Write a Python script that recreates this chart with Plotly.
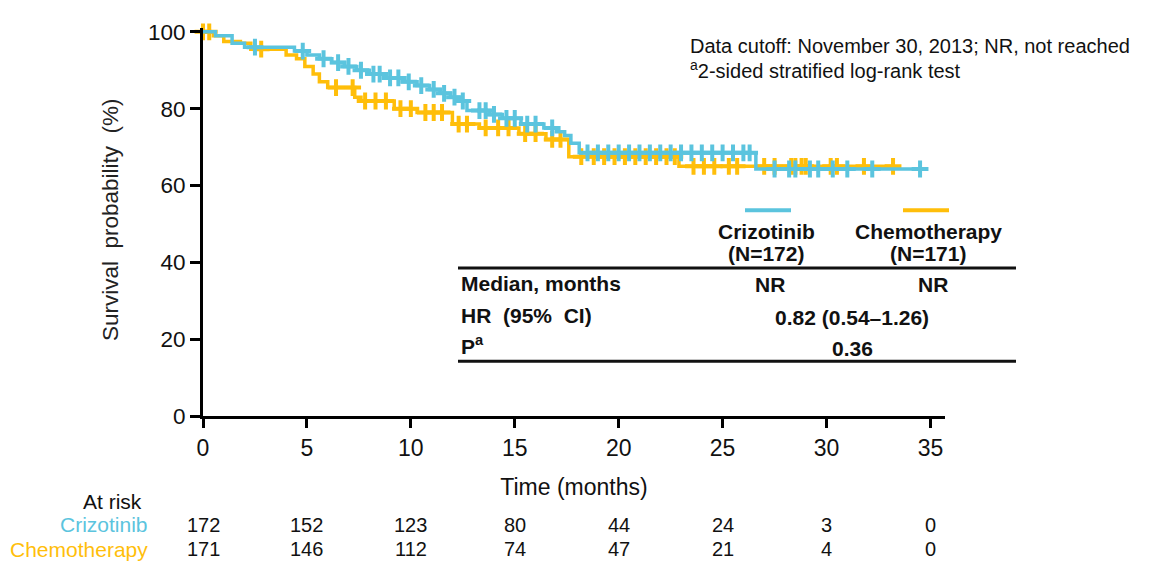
import plotly.graph_objects as go

# ---------------- data ----------------
criz_t = [0, 0.6, 1.4, 2.0, 4.4, 5.0, 5.6, 6.2, 6.8, 7.4, 8.0, 8.7, 9.6, 10.3, 10.9, 11.4, 11.9, 12.3, 12.7, 13.8, 14.4, 15.3, 16.4, 17.0, 17.4, 17.7, 18.1, 26.6]
criz_s = [100, 99, 97, 96, 95, 94, 93, 92, 91, 90, 89, 88, 87, 86, 85, 84, 83, 82, 79.5, 78.5, 77.5, 76, 75, 74, 73, 71, 68.5, 64.3]
criz_end = 34.5

chemo_t = [0, 0.5, 1.0, 1.8, 2.3, 4.0, 4.5, 4.9, 5.3, 5.6, 6.0, 7.3, 7.6, 9.2, 10.3, 12.0, 13.3, 15.2, 16.5, 17.6, 22.9]
chemo_s = [100, 99, 97.5, 97, 95.5, 94, 93, 91, 89, 87, 85.5, 83, 82, 80, 79, 76, 75, 73.5, 72, 67.5, 65]
chemo_end = 33.2

criz_cens = [2.5, 4.8, 5.8, 6.5, 7.0, 7.6, 8.2, 8.5, 9.0, 9.4, 9.9, 10.5, 11.1, 11.6, 12.1, 12.5, 13.3, 13.6, 14.0, 14.6, 15.0, 15.6, 16.0, 16.8,
             18.5, 19.0, 19.5, 20.0, 20.5, 21.0, 21.5, 22.0, 22.5, 23.0, 23.5, 24.0, 24.5, 25.0, 25.5, 26.0, 26.3,
             27.5, 28.2, 28.5, 29.2, 29.6, 30.3, 31.0, 32.2, 34.5]
chemo_cens = [0.0, 0.3, 2.8, 6.4, 7.2, 7.8, 8.3, 8.8, 9.5, 10.0, 10.7, 11.1, 11.5, 12.3, 12.7, 13.6, 14.2, 14.7, 15.5, 16.0, 16.8, 17.2,
              18.2, 18.8, 19.3, 19.8, 20.3, 20.8, 21.3, 21.8, 22.3, 22.7, 23.6, 24.1, 24.6, 25.3, 25.7, 27.0, 27.5,
              28.3, 28.5, 28.8, 29.0, 30.2, 30.5, 31.8, 33.2]

risk_times = [0, 5, 10, 15, 20, 25, 30, 35]
risk_criz = [172, 152, 123, 80, 44, 24, 3, 0]
risk_chemo = [171, 146, 112, 74, 47, 21, 4, 0]

x_ticks = [0, 5, 10, 15, 20, 25, 30, 35]
y_ticks = [0, 20, 40, 60, 80, 100]

BLUE = "#5bc4de"
ORANGE = "#ffbe0a"
ARIAL = "Liberation Sans, Arial, sans-serif"

# ---------------- helpers ----------------
OFF = 8  # page body margin
L, R, T, B = 203, 945, 20, 416   # plot area in window pixels
W, H = 1157 - OFF, 561 - OFF


def px(x):
    return (x - L) / (R - L)


def py(y):
    return (B - y) / (B - T)


def surv_at(times, survs, t):
    val = survs[0]
    for ti, si in zip(times, survs):
        if ti <= t:
            val = si
    return val


fig = go.Figure()

for times, survs, end, cens, col in [
    (chemo_t, chemo_s, chemo_end, chemo_cens, ORANGE),
    (criz_t, criz_s, criz_end, criz_cens, BLUE),
]:
    fig.add_trace(go.Scatter(x=times + [end], y=survs + [survs[-1]], mode="lines",
                             line=dict(color=col, width=3.5, shape="hv"), showlegend=False,
                             hoverinfo="skip", cliponaxis=False))
    fig.add_trace(go.Scatter(x=cens, y=[surv_at(times, survs, c) for c in cens], mode="markers",
                             marker=dict(symbol="cross-thin", size=12, line=dict(color=col, width=4)),
                             showlegend=False, hoverinfo="skip", cliponaxis=False))

fig.update_layout(
    width=W, height=H,
    margin=dict(l=L - OFF, r=W - (R - OFF), t=T - OFF, b=H - (B - OFF), pad=0),
    plot_bgcolor="white", paper_bgcolor="white",
    xaxis=dict(range=[0, 35.7], tickvals=x_ticks, ticktext=[str(v) for v in x_ticks],
               showgrid=False, zeroline=False, showline=True, linecolor="black", linewidth=3,
               ticks="outside", ticklen=9, tickwidth=3, tickcolor="black",
               tickfont=dict(family=ARIAL, size=23, color="#111"),
               title=dict(text="Time (months)", font=dict(family=ARIAL, size=23, color="#111"), standoff=20)),
    yaxis=dict(range=[0, 101], tickvals=y_ticks, ticktext=[str(v) for v in y_ticks],
               showgrid=False, zeroline=False, showline=True, linecolor="black", linewidth=3,
               ticks="outside", ticklen=10, tickwidth=3, tickcolor="black",
               tickfont=dict(family=ARIAL, size=22.5, color="#111")),
)

ann = []


def text(x, y, s, size=21, color="#111", bold=False, xanchor="center", family=ARIAL, xref="paper", angle=0):
    ann.append(dict(x=x, y=py(y), xref=xref, yref="paper", text=(f"<b>{s}</b>" if bold else s),
                    showarrow=False, xanchor=xanchor, yanchor="middle", textangle=angle,
                    font=dict(family=family, size=size, color=color)))


# y-axis title
text(px(110), 216, "Survival  probability  (%)", size=22.5, color="#222", angle=-90)

# notes
text(px(688), 38, "Data cutoff: November 30, 2013; NR, not reached", size=20, xanchor="left")
text(px(688), 62, "<sup>a</sup>2-sided stratified log-rank test", size=20, xanchor="left")

# table header
text(px(766), 228, "Crizotinib", bold=True)
text(px(766), 250, "(N=172)", bold=True)
text(px(928), 228, "Chemotherapy", bold=True)
text(px(928), 250, "(N=171)", bold=True)
text(px(459), 281, "Median, months", bold=True, xanchor="left")
text(px(770), 282, "NR", bold=True)
text(px(933), 282, "NR", bold=True)
text(px(459), 313, "HR  (95%  CI)", bold=True, xanchor="left")
text(px(852), 315, "0.82 (0.54–1.26)", bold=True)
text(px(459), 344, "P<sup>a</sup>", bold=True, xanchor="left")
text(px(852), 347, "0.36", bold=True)

# at-risk table
text(px(144), 503, "At risk", size=21, xanchor="right")
text(px(150), 527, "Crizotinib", size=21, xanchor="right", color=BLUE)
text(px(150), 552, "Chemotherapy", size=21, xanchor="right", color=ORANGE)
for t, a, b in zip(risk_times, risk_criz, risk_chemo):
    text(t, 527, str(a), size=20, xref="x")
    text(t, 552, str(b), size=20, xref="x")

fig.update_layout(annotations=ann)

shapes = [
    dict(type="line", xref="paper", yref="paper", x0=px(458), x1=px(1016), y0=py(265), y1=py(265),
         line=dict(color="#111", width=3)),
    dict(type="line", xref="paper", yref="paper", x0=px(458), x1=px(1016), y0=py(360), y1=py(360),
         line=dict(color="#111", width=3)),
    dict(type="line", xref="paper", yref="paper", x0=px(745), x1=px(791), y0=py(206), y1=py(206),
         line=dict(color=BLUE, width=4)),
    dict(type="line", xref="paper", yref="paper", x0=px(903), x1=px(949), y0=py(206), y1=py(206),
         line=dict(color=ORANGE, width=4)),
]
fig.update_layout(shapes=shapes)

fig.write_html("out.html")
